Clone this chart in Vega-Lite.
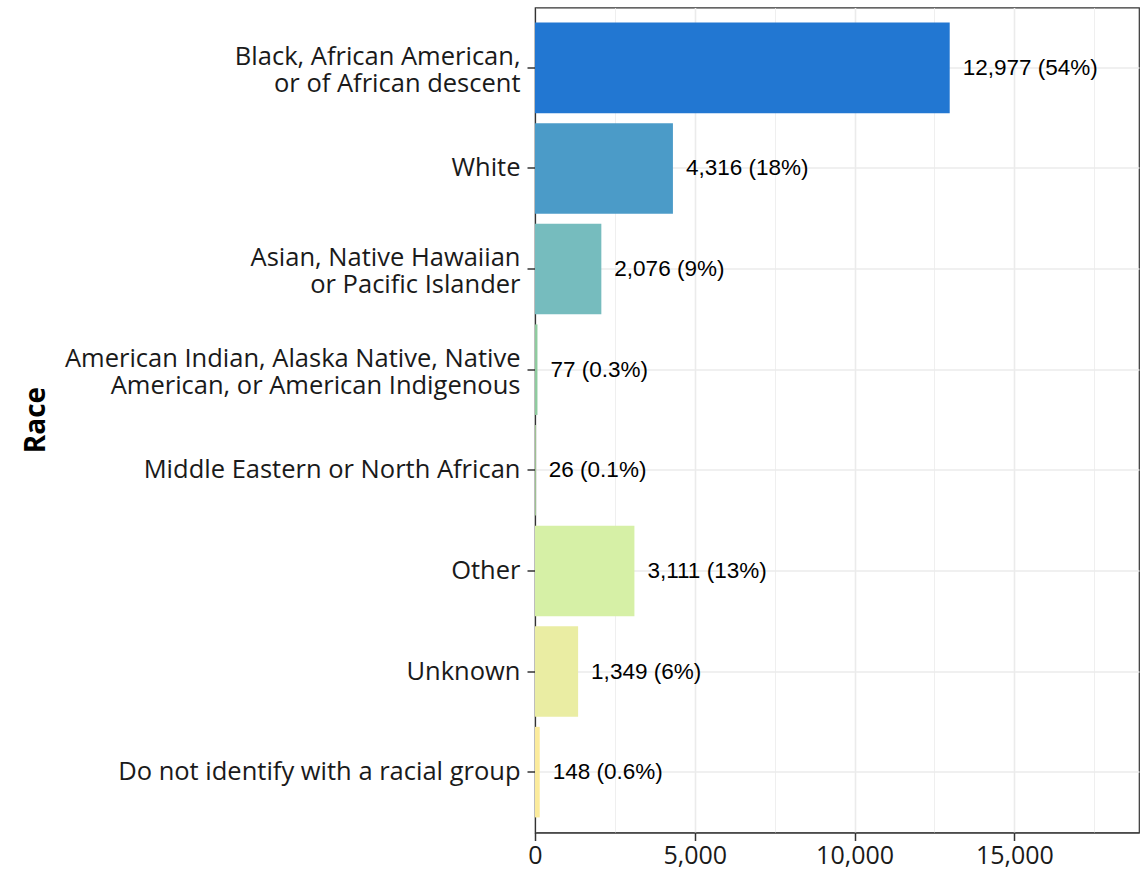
{
  "$schema": "https://vega.github.io/schema/vega-lite/v6.json",
  "width": 604,
  "height": 825,
  "autosize": {"type": "none"},
  "padding": {"left": 535, "top": 7.5, "right": 9, "bottom": 40.5},
  "background": "white",
  "config": {
    "view": {"stroke": "#333333", "strokeWidth": 1.2},
    "font": "Open Sans"
  },
  "data": {
    "values": [
      {"race": "Black, African American,|or of African descent", "n": 12977, "label": "12,977 (54%)"},
      {"race": "White", "n": 4316, "label": "4,316 (18%)"},
      {"race": "Asian, Native Hawaiian|or Pacific Islander", "n": 2076, "label": "2,076 (9%)"},
      {"race": "American Indian, Alaska Native, Native|American, or American Indigenous", "n": 77, "label": "77 (0.3%)"},
      {"race": "Middle Eastern or North African", "n": 26, "label": "26 (0.1%)"},
      {"race": "Other", "n": 3111, "label": "3,111 (13%)"},
      {"race": "Unknown", "n": 1349, "label": "1,349 (6%)"},
      {"race": "Do not identify with a racial group", "n": 148, "label": "148 (0.6%)"}
    ]
  },
  "encoding": {
    "y": {
      "field": "race",
      "type": "nominal",
      "sort": null,
      "scale": {"paddingInner": 0.1, "paddingOuter": 0.15},
      "axis": {
        "title": "Race",
        "titleFont": "Open Sans",
        "titleFontSize": 28,
        "titleFontWeight": "bold",
        "titleColor": "#000000",
        "titleX": -491,
        "titleY": 412,
        "titleAngle": 270,
        "titleAlign": "center",
        "titleBaseline": "alphabetic",
        "labelExpr": "split(datum.value, '|')",
        "labelOffset": {"condition": {"test": "indexof(datum.value, '|') >= 0", "value": -11}, "value": 0},
        "labelFont": "Open Sans",
        "labelFontSize": 25.5,
        "labelLineHeight": 27,
        "labelColor": "#1a1a1a",
        "labelPadding": 7,
        "labelLimit": 600,
        "tickSize": 8,
        "tickColor": "#333333",
        "tickWidth": 1.5,
        "bandPosition": 0.5,
        "grid": true,
        "gridColor": "#EBEBEB",
        "gridWidth": 1.6,
        "domainColor": "#333333",
        "domainWidth": 1.2
      }
    },
    "x": {
      "field": "n",
      "type": "quantitative",
      "scale": {"domain": [0, 18900], "nice": false, "zero": true},
      "axis": {
        "title": null,
        "values": [0, 2500, 5000, 7500, 10000, 12500, 15000, 17500],
        "labelExpr": "datum.value % 5000 === 0 ? format(datum.value, ',') : ''",
        "labelFlush": false,
        "labelFont": "Open Sans",
        "labelFontSize": 25,
        "labelColor": "#1a1a1a",
        "labelPadding": 3,
        "tickSize": {"condition": {"test": "datum.value % 5000 === 0", "value": 8}, "value": 0},
        "tickColor": "#333333",
        "tickWidth": 1.5,
        "grid": true,
        "gridColor": "#EBEBEB",
        "gridWidth": {"condition": {"test": "datum.value % 5000 === 0", "value": 1.6}, "value": 0.8},
        "domainColor": "#333333",
        "domainWidth": 1.2
      }
    }
  },
  "layer": [
    {
      "mark": {"type": "bar"},
      "encoding": {
        "color": {
          "field": "race",
          "type": "nominal",
          "sort": null,
          "legend": null,
          "scale": {
            "domain": [
              "Black, African American,|or of African descent",
              "White",
              "Asian, Native Hawaiian|or Pacific Islander",
              "American Indian, Alaska Native, Native|American, or American Indigenous",
              "Middle Eastern or North African",
              "Other",
              "Unknown",
              "Do not identify with a racial group"
            ],
            "range": ["#2277D2", "#4B9BC8", "#76BCBE", "#8FCB9F", "#B5E0A6", "#D6F0A6", "#EAEDA3", "#FBEB9C"]
          }
        }
      }
    },
    {
      "mark": {"type": "text", "align": "left", "baseline": "middle", "dx": 13, "font": "Liberation Sans", "fontSize": 22.5, "color": "#000000"},
      "encoding": {"text": {"field": "label"}}
    }
  ]
}
